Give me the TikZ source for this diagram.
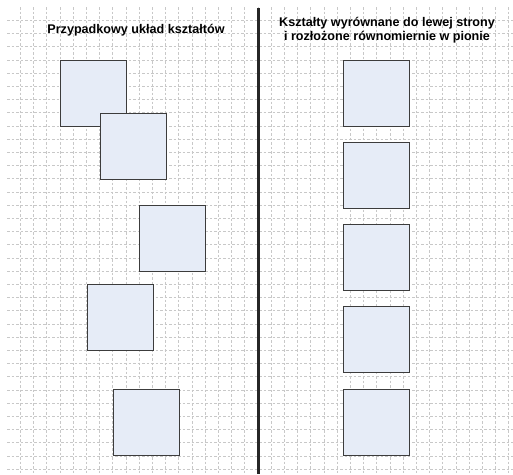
\documentclass[tikz,border=0pt]{standalone}
\usepackage{fontspec}
\setmainfont{Liberation Sans}
\definecolor{boxfill}{HTML}{E6ECF7}
\definecolor{boxline}{HTML}{3C3C3C}
\definecolor{gridc}{HTML}{C8C8C8}
\begin{document}
\begin{tikzpicture}[x=1pt,y=-1pt,
  shapebox/.style={draw=boxline,fill=boxfill,line width=1.3pt,minimum size=66pt,inner sep=0pt,anchor=north west},
  gridline/.style={draw=gridc,line width=0.6pt,dash pattern=on 2.5pt off 2pt},
  title/.style={font=\bfseries\fontsize{12.6}{14}\selectfont,align=center,inner sep=0pt}]
\useasboundingbox (0,0) rectangle (513,474);
\fill[white] (0,0) rectangle (513,474);
% grid
\foreach \k in {1,...,38} {
  \draw[gridline] ({7+13.2*\k},7) -- ({7+13.2*\k},474);
}
\foreach \k in {1,...,35} {
  \draw[gridline] (7,{7+13.2*\k}) -- (513,{7+13.2*\k});
}
% divider
\coordinate (dtop) at (258,8);
\coordinate (dbot) at (258,474);
\draw[line width=3pt,black!85] (dtop) -- (dbot);
% titles
\node[title] (tl) at (136,30) {Przypadkowy układ kształtów};
\node[title] (tr) at (387,30) {Kształty wyrównane do lewej strony\\i rozłożone równomiernie w pionie};
% left random shapes
\node[shapebox] (s1) at (60,60) {};
\node[shapebox] (s2) at (99.5,112.5) {};
\node[shapebox] (s3) at (139,205) {};
\node[shapebox] (s4) at (87,284) {};
\node[shapebox] (s5) at (113,389) {};
% right aligned shapes
\node[shapebox] (r1) at (343,60) {};
\node[shapebox] (r2) at (343,142) {};
\node[shapebox] (r3) at (343,224) {};
\node[shapebox] (r4) at (343,306) {};
\node[shapebox] (r5) at (343,388.5) {};
\end{tikzpicture}
\end{document}
